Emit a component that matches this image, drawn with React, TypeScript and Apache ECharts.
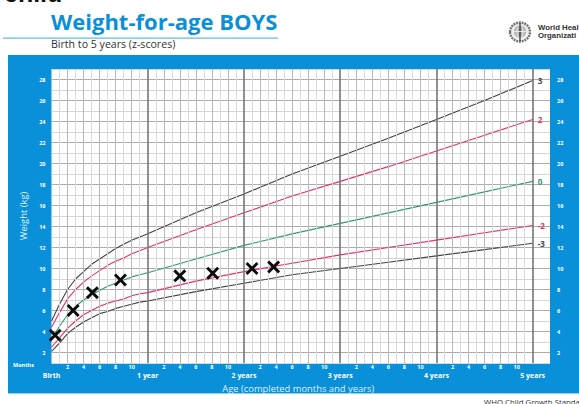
import React, { useEffect, useRef } from "react";
import * as echarts from "echarts";

const months = [0,1,2,3,4,5,6,7,8,9,10,11,12,18,24,30,36,42,48,54,60];
const plus3 = [5.0,6.6,8.0,9.0,9.7,10.4,10.9,11.4,11.9,12.3,12.7,13.0,13.3,15.3,17.1,19.0,20.7,22.4,24.2,26.0,27.9];
const plus2 = [4.4,5.8,7.1,8.0,8.7,9.3,9.8,10.3,10.7,11.0,11.4,11.7,12.0,13.7,15.3,16.9,18.3,19.7,21.2,22.7,24.2];
const median = [3.3,4.5,5.6,6.4,7.0,7.5,7.9,8.3,8.6,8.9,9.2,9.4,9.6,10.9,12.2,13.3,14.3,15.3,16.3,17.3,18.3];
const minus2 = [2.5,3.4,4.3,5.0,5.6,6.0,6.4,6.7,6.9,7.1,7.4,7.6,7.7,8.8,9.7,10.5,11.3,12.0,12.7,13.4,14.1];
const minus3 = [2.1,2.9,3.8,4.4,4.9,5.3,5.7,5.9,6.2,6.4,6.6,6.8,6.9,7.8,8.6,9.4,10.0,10.6,11.2,11.8,12.4];
const childMonths = [0.45, 2.7, 5.1, 8.6, 16.0, 20.1, 25.0, 27.7];
const childWeights = [3.65, 6.0, 7.7, 8.9, 9.3, 9.55, 10.0, 10.15];
const gridMonths = Array.from({ length: 60 }, (_, i) => i + 1);
const yearTicks = [0, 12, 24, 36, 48, 60];
const yearLabels = ["Birth", "1 year", "2 years", "3 years", "4 years", "5 years"];

const BLUE = "#0a90d8";
const CROSS = "path://M1.9 0L6 4.1L10.1 0L12 1.9L7.9 6L12 10.1L10.1 12L6 7.9L1.9 12L0 10.1L4.1 6L0 1.9Z";

const curve = (name: string, values: number[], color: string) => ({
  type: "line",
  name,
  data: months.map((m, i) => [m, values[i]]),
  smooth: false,
  symbol: "none",
  silent: true,
  lineStyle: { color, width: 1.1 },
  endLabel: {
    show: true,
    formatter: "{a}",
    color,
    fontFamily: "Open Sans",
    fontWeight: "bold",
    fontSize: 8,
    distance: 5,
  },
});

const monthLine = (m: number) => {
  const isYear = m % 12 === 0;
  const isEven = m % 2 === 0;
  return {
    xAxis: m,
    lineStyle: {
      color: isYear ? "#777777" : isEven ? "#b8b8b8" : "#d8d8d8",
      width: isYear ? 1.6 : 1,
      type: "solid",
    },
  };
};

const yAxisBase = {
  type: "value",
  min: 1,
  max: 29,
  interval: 1,
  axisLine: { show: false },
  axisTick: { show: false },
};
const yLabel = {
  color: "#ffffff",
  fontFamily: "Open Sans",
  fontWeight: "bold",
  fontSize: 5.5,
  formatter: (v: number) => (v % 2 === 0 ? String(v) : ""),
};

export default function App() {
  const ref = useRef<HTMLDivElement>(null);
  useEffect(() => {
    const chart = echarts.init(ref.current!, undefined, { renderer: "svg" });
    const sans = "Open Sans";
    chart.setOption({
      animation: false,
      backgroundColor: "#ffffff",
      grid: {
        left: 51.5,
        right: 29,
        top: 69,
        bottom: 41,
        show: true,
        backgroundColor: "#ffffff",
        borderWidth: 0,
      },
      xAxis: [
        {
          type: "value",
          min: 0,
          max: 62.16,
          splitLine: { show: false },
          axisLine: { show: false },
          axisTick: { show: false },
          axisLabel: {
            color: "#ffffff",
            fontFamily: sans,
            fontWeight: "bold",
            fontSize: 5.5,
            margin: 1,
            hideOverlap: false,
            showMinLabel: true,
            showMaxLabel: true,
            customValues: gridMonths.filter((m) => m % 2 === 0 && m % 12 !== 0),
            formatter: (v: number) => String(v % 12),
          },
        },
        {
          type: "value",
          position: "bottom",
          offset: 8,
          min: 0,
          max: 62.16,
          splitLine: { show: false },
          axisLine: { show: false },
          axisTick: { show: false },
          axisLabel: {
            color: "#ffffff",
            fontFamily: sans,
            fontWeight: "bold",
            fontSize: 7,
            margin: 1,
            showMinLabel: true,
            showMaxLabel: true,
            customValues: yearTicks,
            formatter: (v: number) => yearLabels[yearTicks.indexOf(v)] ?? "",
          },
          name: "Age (completed months and years)",
          nameLocation: "middle",
          nameGap: 11,
          nameTextStyle: { color: "#dff1fb", fontFamily: sans, fontSize: 9.4, padding: [0, 5, 0, 0] },
        },
      ],
      yAxis: [
        {
          ...yAxisBase,
          position: "left",
          splitLine: { show: true, lineStyle: { color: ["#d6d6d6", "#acacac"], width: 1 } },
          axisLabel: { ...yLabel, margin: 6 },
          name: "Weight (kg)",
          nameLocation: "middle",
          nameGap: 24,
          nameRotate: 90,
          nameTextStyle: { color: "#dff1fb", fontFamily: sans, fontSize: 9.4 },
        },
        {
          ...yAxisBase,
          position: "right",
          splitLine: { show: false },
          axisLabel: { ...yLabel, margin: 7 },
        },
      ],
      series: [
        {
          type: "line",
          data: [],
          silent: true,
          z: 1,
          markLine: {
            silent: true,
            symbol: "none",
            label: { show: false },
            animation: false,
            data: gridMonths.map(monthLine),
          },
        },
        curve("3", plus3, "#444444"),
        curve("2", plus2, "#e5306e"),
        curve("0", median, "#33987a"),
        curve("-2", minus2, "#e5306e"),
        curve("-3", minus3, "#444444"),
        {
          type: "scatter",
          name: "Child",
          data: childMonths.map((m, i) => [m, childWeights[i]]),
          symbol: CROSS,
          symbolSize: 13,
          itemStyle: { color: "#0c0c0c", opacity: 1 },
          z: 5,
        },
      ],
      graphic: [
        { type: "rect", z: -10, shape: { x: 8, y: 55, width: 571, height: 338 }, style: { fill: BLUE } },
        { type: "rect", z: -10, shape: { x: 8, y: 393, width: 571, height: 1 }, style: { fill: "#8fd0f0" } },
        { type: "rect", z: 1, shape: { x: 3, y: 37.5, width: 275, height: 1.2 }, style: { fill: "#5fbde9" } },
        { type: "text", x: 4, y: -20, style: { text: "child", fill: "#111111", font: "bold 25px 'Liberation Sans'" } },
        { type: "text", x: 51, y: 10, style: { text: "Weight-for-age BOYS", fill: "#0a90d8", font: "bold 22px 'Open Sans'" } },
        { type: "text", x: 51, y: 38.5, style: { text: "Birth to 5 years (z-scores)", fill: "#333333", font: "10.6px 'Open Sans'" } },
        { type: "text", x: 13, y: 362, style: { text: "Months", fill: "#ffffff", font: "bold 5.5px 'Open Sans'" } },
        { type: "text", x: 538, y: 23, style: { text: "World Heal", fill: "#333333", font: "bold 7.8px 'Liberation Sans'" } },
        { type: "text", x: 538, y: 31, style: { text: "Organizati", fill: "#333333", font: "bold 7.8px 'Liberation Sans'" } },
        { type: "text", x: 484, y: 397.5, style: { text: "WHO Child Growth Standards", fill: "#333333", font: "7.8px 'Open Sans'" } },
        { type: "ellipse", shape: { cx: 520, cy: 32, rx: 10, ry: 9.5 }, style: { fill: "#f0f0f0", stroke: "#777777", lineWidth: 2.4, lineDash: [2, 0.8] } },
        { type: "ellipse", shape: { cx: 520, cy: 31.5, rx: 6.2, ry: 6.2 }, style: { fill: "#b5b5b5" } },
        { type: "ellipse", shape: { cx: 520, cy: 31.5, rx: 3, ry: 6.2 }, style: { fill: "none", stroke: "#f5f5f5", lineWidth: 0.8 } },
        { type: "line", shape: { x1: 520, y1: 23, x2: 520, y2: 41 }, style: { stroke: "#333333", lineWidth: 1.3 } },
        { type: "line", shape: { x1: 514, y1: 31.5, x2: 526, y2: 31.5 }, style: { stroke: "#f5f5f5", lineWidth: 0.8 } },
      ],
    });
    return () => chart.dispose();
  }, []);
  return <div ref={ref} style={{ position: "fixed", left: 0, top: 0, width: 579, height: 404 }} />;
}
